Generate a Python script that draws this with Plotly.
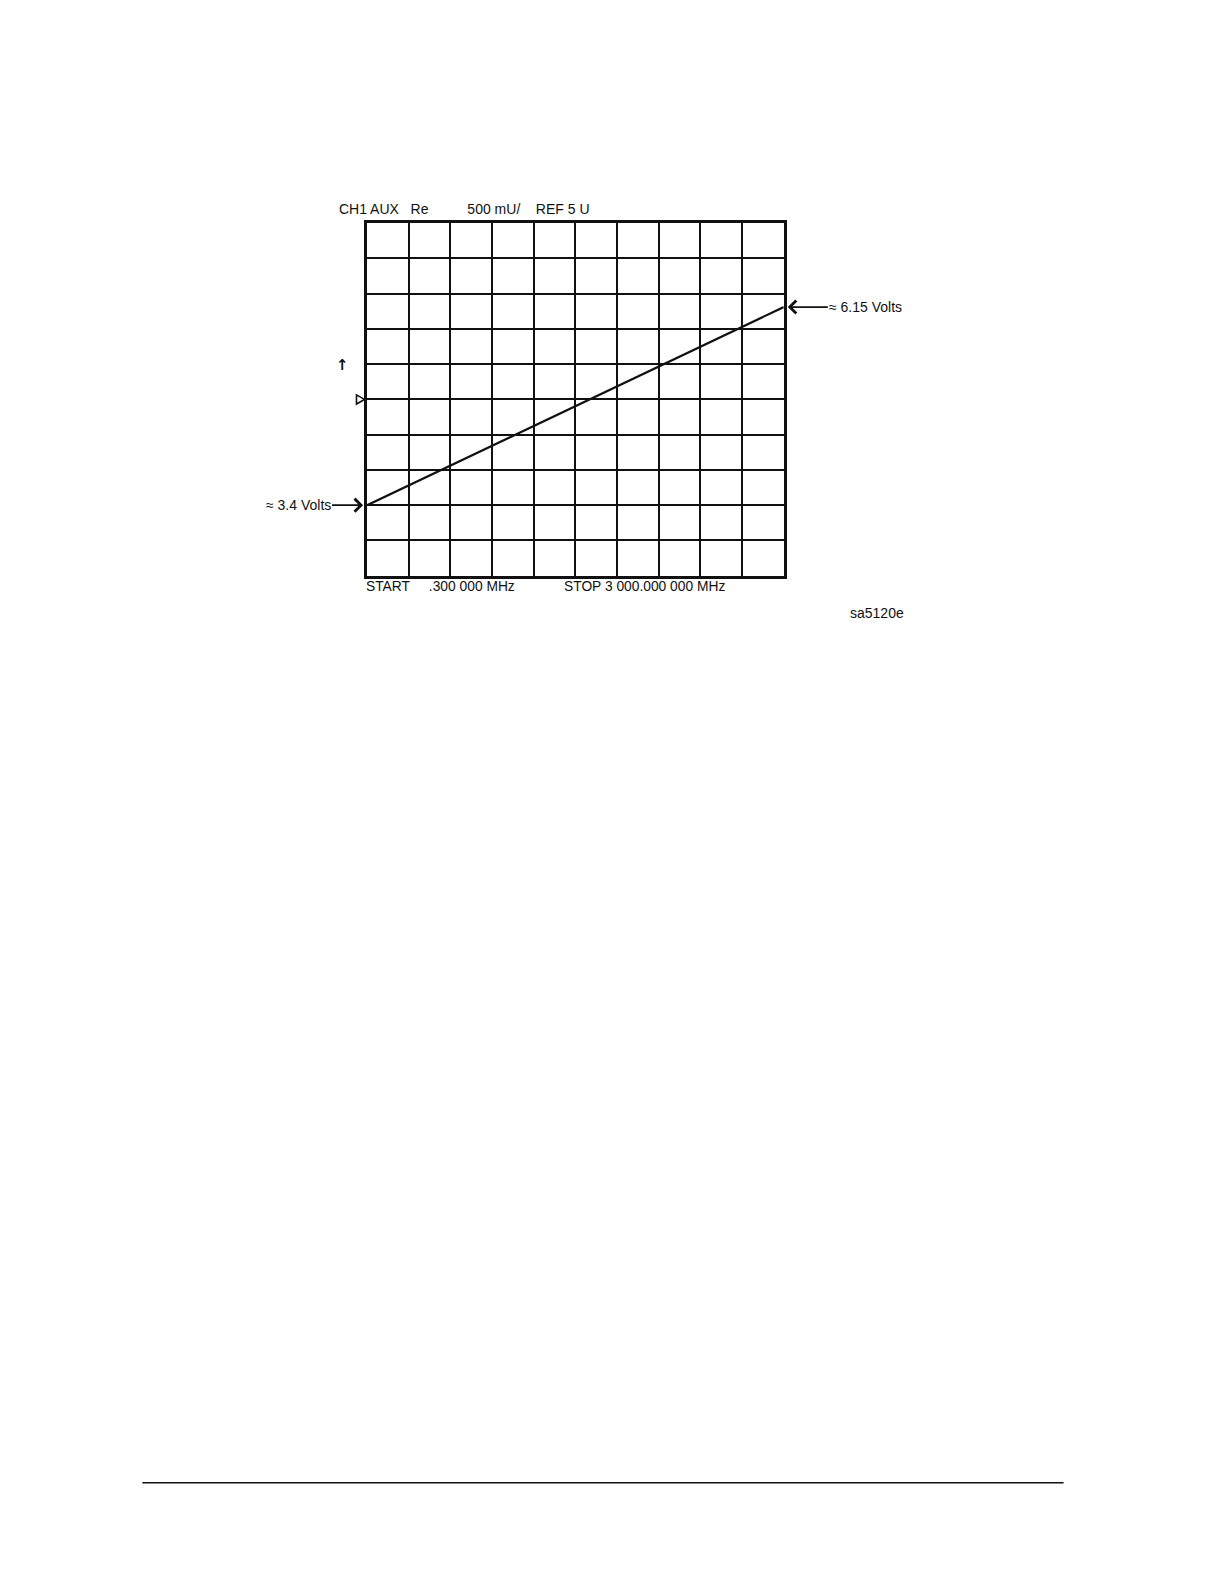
import plotly.graph_objects as go

# data
freq_mhz = [0.3, 3000.0]          # START / STOP
trace_u = [3.5, 6.31]             # aux input trace (units, 500 mU/div)
y_ref = 5.0                       # REF 5 U
y_per_div = 0.5
n_div = 10
header = "CH1 AUX   Re          500 mU/    REF 5 U"
start_label = "START     .300 000 MHz"
stop_label = "STOP 3 000.000 000 MHz"
low_note = "≈ 3.4 Volts"
high_note = "≈ 6.15 Volts"
fig_id = "sa5120e"

# page is 1224x1582; the figure is drawn with an 8px margin and ~0.99 scale
OFF, SC = 8, 0.99
W, H = 1208, 1566
x0p, x1p = 363.5, 776
ytop, ybot = 221, 570

y_lo = y_ref - y_per_div * n_div / 2
y_hi = y_ref + y_per_div * n_div / 2
x_step = (freq_mhz[1] - freq_mhz[0]) / n_div

def px(x):
    return ((x - OFF) / SC) / W

def py(y):
    return 1 - ((y - OFF) / SC) / H

font = dict(family="Liberation Sans, Arial, sans-serif", size=14, color="#111")
font_b = dict(font, size=13.8)

fig = go.Figure()
fig.add_trace(go.Scatter(x=freq_mhz, y=trace_u, mode="lines",
                         line=dict(color="#111", width=2.2), showlegend=False,
                         hoverinfo="skip"))

axis_common = dict(showgrid=True, gridcolor="#111", gridwidth=2,
                   showticklabels=False, ticks="", zeroline=False,
                   showline=True, linecolor="#111", linewidth=2.5, mirror=True)

fig.update_layout(
    width=W, height=H, paper_bgcolor="white", plot_bgcolor="white",
    margin=dict(l=0, r=0, t=0, b=0), font=font,
    xaxis=dict(domain=[px(x0p), px(x1p)], range=[freq_mhz[0], freq_mhz[1]],
               tick0=freq_mhz[0], dtick=x_step, **axis_common),
    yaxis=dict(domain=[py(ybot), py(ytop)], range=[y_lo, y_hi],
               tick0=y_lo, dtick=y_per_div, **axis_common),
)

ann = []
ann.append(dict(xref="paper", yref="paper", x=px(334), y=py(207), text=header,
                showarrow=False, xanchor="left", yanchor="middle", font=font))
ann.append(dict(xref="paper", yref="paper", x=px(360.5), y=py(581), text=start_label,
                showarrow=False, xanchor="left", yanchor="middle", font=font_b))
ann.append(dict(xref="paper", yref="paper", x=px(556.5), y=py(581), text=stop_label,
                showarrow=False, xanchor="left", yanchor="middle", font=font_b))
ann.append(dict(xref="paper", yref="paper", x=px(897), y=py(607), text=fig_id,
                showarrow=False, xanchor="right", yanchor="middle", font=font))
ann.append(dict(xref="paper", yref="paper", x=px(339), y=py(361), text="<b>↑</b>",
                showarrow=False, xanchor="center", yanchor="middle",
                font=dict(family="DejaVu Sans", size=15, color="#111")))
# value callouts
ann.append(dict(xref="x", yref="y", x=freq_mhz[0], y=trace_u[0], text=low_note,
                showarrow=True, arrowhead=4, arrowsize=1.4, arrowwidth=1.8,
                arrowcolor="#111", ax=-69, ay=0, standoff=4,
                xanchor="center", font=font))
ann.append(dict(xref="x", yref="y", x=freq_mhz[1], y=trace_u[1], text=high_note,
                showarrow=True, arrowhead=4, arrowsize=1.4, arrowwidth=1.8,
                arrowcolor="#111", ax=82, ay=0, standoff=4,
                xanchor="center", font=font))
fig.update_layout(annotations=ann)

# reference-level marker (open triangle at REF position)
dy = 0.065
fig.add_shape(type="path", xref="paper", yref="y",
              path=f"M {px(353)},{y_ref + dy} L {px(361)},{y_ref} L {px(353)},{y_ref - dy} Z",
              line=dict(color="#111", width=1.6), fillcolor="white")

# page rule at bottom
fig.add_shape(type="line", xref="paper", yref="paper",
              x0=px(141), x1=px(1053), y0=py(1468), y1=py(1468),
              line=dict(color="#111", width=1.5))

fig.write_html("out.html")
